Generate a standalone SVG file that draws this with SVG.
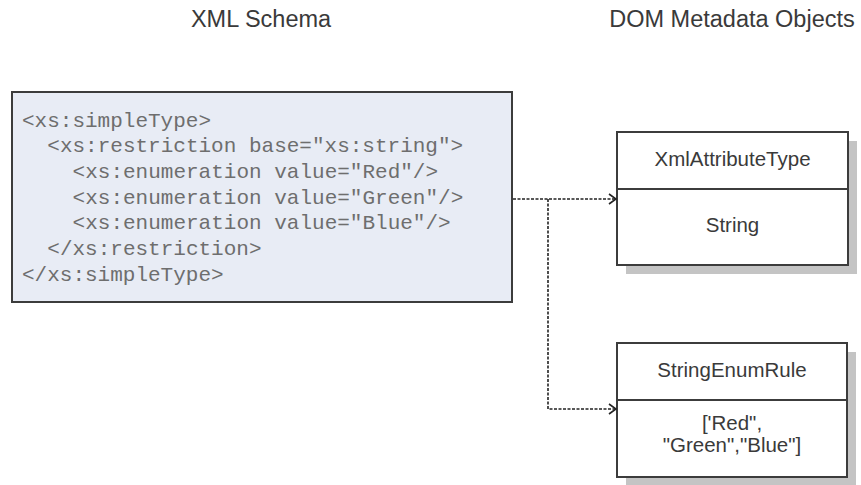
<svg xmlns="http://www.w3.org/2000/svg" width="861" height="485" viewBox="0 0 861 485">
  <style>
    .title { font-family: "Liberation Sans", Arial, sans-serif; font-size: 23.5px; fill: #3a3a3a; text-anchor: middle; }
    .code { font-family: "Liberation Mono", "Courier New", monospace; font-size: 21px; fill: #6e6e6e; }
    .label { font-family: "Liberation Sans", Arial, sans-serif; font-size: 20.5px; fill: #3a3a3a; text-anchor: middle; }
    .box { fill: #ffffff; stroke: #3c3c3c; stroke-width: 2; }
    .shadow { fill: #c4c4c4; }
    .divider { stroke: #3c3c3c; stroke-width: 2; }
    .conn { fill: none; stroke: #222222; stroke-width: 1.6; stroke-dasharray: 3 1.5; }
  </style>
  <defs>
    <marker id="open-arrow" markerUnits="userSpaceOnUse" markerWidth="12" markerHeight="14" refX="9" refY="6" orient="auto">
      <path d="M2,1 L9,6 L2,11" fill="none" stroke="#222222" stroke-width="1.6"/>
    </marker>
  </defs>

  <rect width="861" height="485" fill="#ffffff"/>

  <!-- column headings -->
  <text class="title" x="261" y="27">XML Schema</text>
  <text class="title" x="732" y="27">DOM Metadata Objects</text>

  <!-- schema source -->
  <g id="xml-schema">
    <rect x="12" y="92" width="500" height="210" fill="#e8ecf5" stroke="#3c3c3c" stroke-width="2"/>
    <text class="code" x="22" y="126.5">&lt;xs:simpleType&gt;</text>
    <text class="code" x="47.3" y="152.2">&lt;xs:restriction base="xs:string"&gt;</text>
    <text class="code" x="72.6" y="177.9">&lt;xs:enumeration value="Red"/&gt;</text>
    <text class="code" x="72.6" y="203.6">&lt;xs:enumeration value="Green"/&gt;</text>
    <text class="code" x="72.6" y="229.3">&lt;xs:enumeration value="Blue"/&gt;</text>
    <text class="code" x="47.3" y="255">&lt;/xs:restriction&gt;</text>
    <text class="code" x="22" y="280.7">&lt;/xs:simpleType&gt;</text>
  </g>

  <!-- attribute type object -->
  <g id="xml-attribute-type">
    <rect class="shadow" x="626" y="141" width="231" height="133"/>
    <rect class="box" x="617" y="132" width="231" height="133"/>
    <line class="divider" x1="617" y1="189" x2="848" y2="189"/>
    <text class="label" x="732.5" y="166">XmlAttributeType</text>
    <text class="label" x="732.5" y="231.5">String</text>
  </g>

  <!-- enumeration rule object -->
  <g id="string-enum-rule">
    <rect class="shadow" x="626" y="352" width="230" height="134"/>
    <rect class="box" x="617" y="343" width="230" height="134"/>
    <line class="divider" x1="617" y1="400" x2="847" y2="400"/>
    <text class="label" x="732" y="377">StringEnumRule</text>
    <text class="label" x="732" y="430">['Red",</text>
    <text class="label" x="732" y="452">"Green","Blue"]</text>
  </g>

  <!-- connectors -->
  <g id="connectors">
    <path class="conn" d="M513,199 L616,199" marker-end="url(#open-arrow)"/>
    <path class="conn" d="M548,199 L548,409 L616,409" marker-end="url(#open-arrow)"/>
  </g>
</svg>
